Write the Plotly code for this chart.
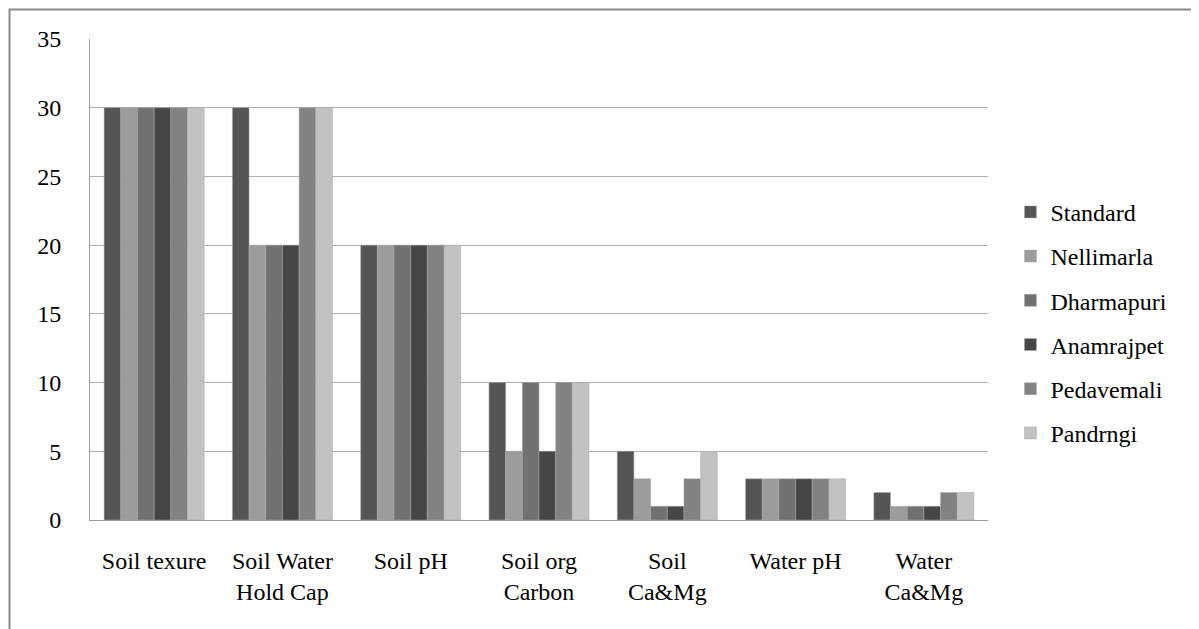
import plotly.graph_objects as go

categories = ["Soil texure", "Soil Water<br>Hold Cap", "Soil pH", "Soil org<br>Carbon",
              "Soil<br>Ca&Mg", "Water pH", "Water<br>Ca&Mg"]
series_names = ["Standard", "Nellimarla", "Dharmapuri", "Anamrajpet", "Pedavemali", "Pandrngi"]
standard = [30, 30, 20, 10, 5, 3, 2]
nellimarla = [30, 20, 20, 5, 3, 3, 1]
dharmapuri = [30, 20, 20, 10, 1, 3, 1]
anamrajpet = [30, 20, 20, 5, 1, 3, 1]
pedavemali = [30, 30, 20, 10, 3, 3, 2]
pandrngi = [30, 30, 20, 10, 5, 3, 2]
colors = ["#555555", "#9c9c9c", "#717171", "#464646", "#828282", "#c2c2c2"]
y_ticks = [0, 5, 10, 15, 20, 25, 30, 35]

W, H = 1191, 621
OFF = 8  # page body offset
L, R, T, B = 90 - OFF, 988 - OFF, 39 - OFF, 520 - OFF

fig = go.Figure()
for name, vals, c in zip(series_names, [standard, nellimarla, dharmapuri, anamrajpet, pedavemali, pandrngi], colors):
    fig.add_trace(go.Bar(name=name, x=categories, y=vals, legendgroup=name,
                         marker=dict(color=c, line=dict(color="#a8a8a8", width=0.5))))

pw, ph = R - L, B - T
serif = "Liberation Serif, Times New Roman, serif"
fig.update_layout(
    width=W, height=H,
    margin=dict(l=L, r=W - R, t=T, b=H - B),
    barmode="group", bargap=0.22, bargroupgap=0,
    plot_bgcolor="white", paper_bgcolor="white",
    font=dict(family=serif, size=24, color="#000000"),
    legend=dict(x=1.025, y=0.41, xanchor="left", yanchor="middle",
                font=dict(family=serif, size=24), tracegroupgap=10, itemwidth=30,
                bgcolor="rgba(0,0,0,0)"),
    xaxis=dict(showgrid=False, showline=True, linecolor="#9a9a9a", linewidth=1,
               ticks="", ticklabelstandoff=19, tickfont=dict(family=serif, size=24)),
    yaxis=dict(range=[0, 35], tickvals=y_ticks, showgrid=True, gridcolor="#b0b0b0", gridwidth=1,
               showline=True, linecolor="#9a9a9a", linewidth=1, ticks="", zeroline=False,
               ticklabelstandoff=23, tickfont=dict(family=serif, size=24)),
    shapes=[dict(type="rect", xref="paper", yref="paper",
                 x0=(9.5 - OFF - L) / pw, x1=(W + 20 - L) / pw,
                 y0=(B - (H + 20)) / ph, y1=(B - (9.5 - OFF)) / ph,
                 line=dict(color="#8a8a8a", width=2), fillcolor="rgba(0,0,0,0)", layer="below")],
)
fig.write_html("out.html")
